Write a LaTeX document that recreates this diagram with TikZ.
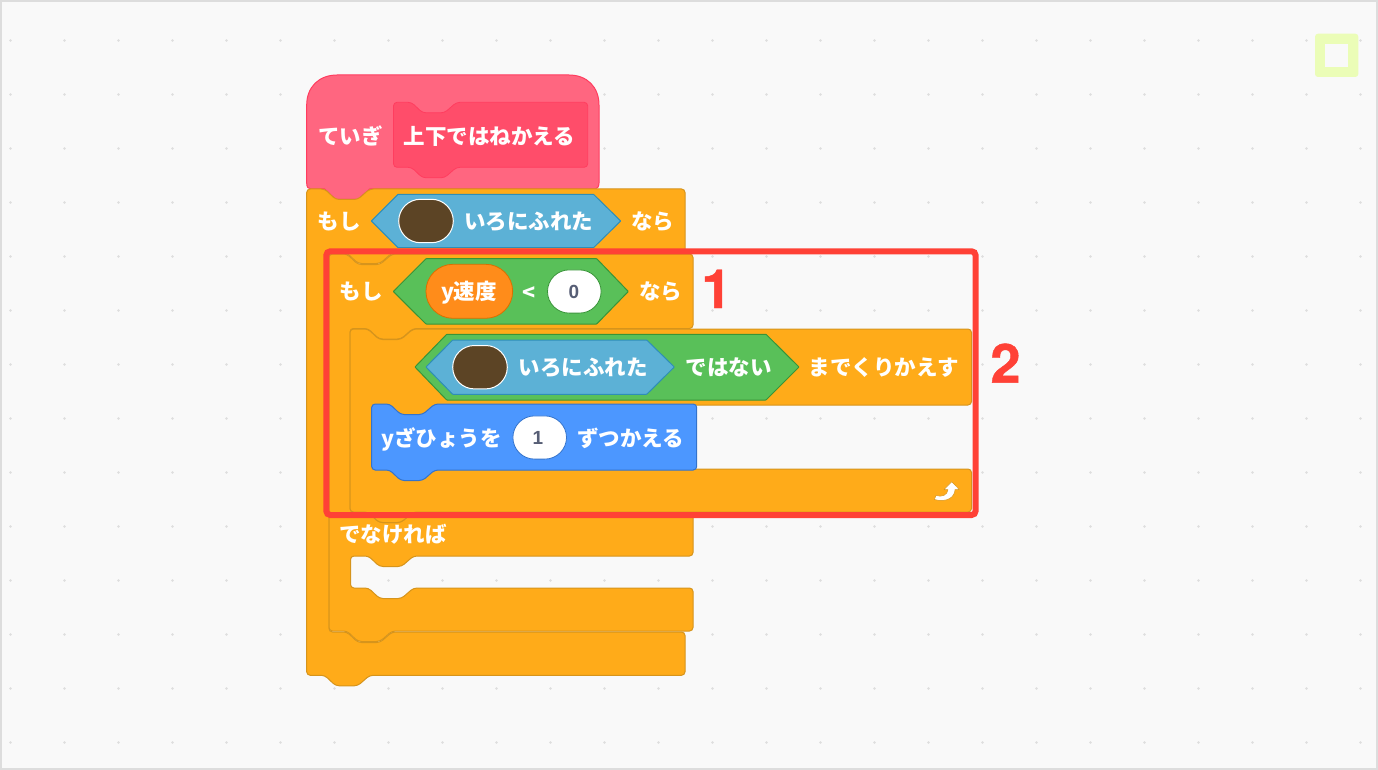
\documentclass[tikz,border=0pt]{standalone}
\usepackage{fontspec}
\usetikzlibrary{shapes.misc}
\setmainfont{Noto Sans CJK JP}
\newfontfamily\arialish{Liberation Sans}
\newfontfamily\helv{TeX Gyre Heros}[BoldFeatures={FakeBold=0.8}]
\definecolor{bgc}{HTML}{F9F9F9}
\definecolor{framec}{HTML}{DDDDDD}
\definecolor{dotc}{HTML}{DEDEDE}
\definecolor{ctrl}{HTML}{FFAB19}
\definecolor{ctrlb}{HTML}{D6941C}
\definecolor{hatc}{HTML}{FF6680}
\definecolor{hatb}{HTML}{FF3D5F}
\definecolor{protoc}{HTML}{FF4D6A}
\definecolor{motion}{HTML}{4C97FF}
\definecolor{motionb}{HTML}{3373CC}
\definecolor{sens}{HTML}{5CB1D6}
\definecolor{sensb}{HTML}{2E8EB8}
\definecolor{oper}{HTML}{59C059}
\definecolor{operb}{HTML}{389438}
\definecolor{varc}{HTML}{FF8C1A}
\definecolor{varb}{HTML}{DB6E00}
\definecolor{swatch}{HTML}{5C4425}
\definecolor{numc}{HTML}{575E75}
\definecolor{redc}{HTML}{FF4136}
\definecolor{limec}{HTML}{EBFDB7}
% notch going left to right at height #2 from block edge #1
\def\ntR#1#2{ -- ({#1+18},#2) -- ({#1+29},{#2+10.5}) -- ({#1+51},{#2+10.5}) -- ({#1+63},#2) }
% same notch, walked right to left
\def\ntL#1#2{ -- ({#1+63},#2) -- ({#1+51},{#2+10.5}) -- ({#1+29},{#2+10.5}) -- ({#1+18},#2) }
\tikzset{
  ctrlblock/.style={fill=ctrl,draw=ctrlb,line width=1pt,rounded corners=3.5pt},
  hatblock/.style={fill=hatc,draw=hatb,line width=1pt},
  protoblock/.style={fill=protoc,draw=hatb,line width=.8pt,rounded corners=3.5pt},
  motionblock/.style={fill=motion,draw=motionb,line width=1pt,rounded corners=3.5pt},
  senshex/.style={fill=sens,draw=sensb,line width=1pt,rounded corners=.5pt},
  operhex/.style={fill=oper,draw=operb,line width=1pt,rounded corners=.5pt},
  lbl/.style={text=white,font=\bfseries\fontsize{21.5}{21.5}\selectfont,inner sep=0pt,text height=17pt,text depth=0pt},
  numlbl/.style={text=numc,font=\arialish\bfseries\fontsize{19}{19}\selectfont,inner sep=0pt,text height=13.5pt,text depth=0pt},
  bigred/.style={text=redc,font=\helv\bfseries\fontsize{54}{54}\selectfont,inner sep=0pt,text height=38pt,text depth=0pt},
  pill/.style={rounded rectangle,inner sep=0pt},
  swatchbox/.style={pill,fill=swatch,draw=white,line width=1pt,minimum width=54.6pt,minimum height=43.4pt},
  varpill/.style={pill,fill=varc,draw=varb,line width=.8pt,minimum width=86.7pt,minimum height=54pt},
  whitepill/.style={pill,fill=white,line width=.8pt,minimum width=53.6pt,minimum height=43.2pt}
}
\begin{document}
\begin{tikzpicture}[x=1pt,y=-1pt]
\useasboundingbox (0,0) rectangle (1378,770);
\fill[framec] (0,0) rectangle (1378,770);
\fill[bgc] (2,2) rectangle (1376,768);
\foreach \px in {10.5,64.5,...,1378}{\foreach \py in {40.5,94.5,...,770}{
  \fill[dotc] (\px,\py) circle (1.4);
}}
% lime marker
\fill[limec,rounded corners=3pt] (1315,33.7) rectangle (1358.3,77);
\fill[bgc] (1325,44) rectangle (1348,67);
% hat, with the notch that the block below it fits on
\draw[hatblock] (306.7,165) -- (306.7,105) .. controls (306.7,87) and (319,75) .. (337,75) -- (569,75) .. controls (587,75) and (599,87) .. (599,105) -- (599,183) .. controls (599,187) and (597,189) .. (595,189) \ntL{306.7}{189} -- (311,189) .. controls (308,189) and (306.7,187) .. (306.7,183) -- cycle;
% prototype
\draw[protoblock] (400,102.3) \ntR{393.5}{102.3} -- (587.7,102.3) -- (587.7,167.3) \ntL{393.5}{167.3} -- (393.5,167.3) -- (393.5,102.3) -- cycle;
% outer if
\draw[ctrlblock] (315,189) \ntR{306.7}{189} -- (685,189) -- (685,253) \ntL{329}{253} -- (329,253) -- (329,632) \ntR{329}{632} -- (685,632) -- (685,675.3) \ntL{306.7}{675.3} -- (306.7,675.3) -- (306.7,189) -- cycle;
% inner if/else
\draw[ctrlblock] (335,254) \ntR{329}{254} -- (693,254) -- (693,328.5) \ntL{350}{328.5} -- (350,328.5) -- (350,512) \ntR{350}{512} -- (693,512) -- (693,556) \ntL{350.5}{556} -- (350.5,556) -- (350.5,588) \ntR{350.5}{588} -- (693,588) -- (693,631) \ntL{329}{631} -- (329,631) -- (329,254) -- cycle;
% repeat until
\draw[ctrlblock] (355,329) \ntR{350}{329} -- (971.5,329) -- (971.5,405) \ntL{371.5}{405} -- (371.5,405) -- (371.5,469) \ntR{371.5}{469} -- (971.5,469) -- (971.5,512) \ntL{350}{512} -- (350,512) -- (350,329) -- cycle;
% motion block
\draw[motionblock] (378,404) \ntR{371.7}{404} -- (696.7,404) -- (696.7,470) \ntL{371.7}{470} -- (371.7,470) -- (371.7,404) -- cycle;
% first sensing hex
\draw[senshex] (371.3,221) -- (398,194.3) -- (593.5,194.3) -- (620.7,221) -- (593.5,247.7) -- (398,247.7) -- cycle;
\node[swatchbox] (swatchA) at (426,221) {};
% operator hex
\draw[operhex] (393.3,291.5) -- (426,258.7) -- (596.7,258.7) -- (628.3,291.5) -- (596.7,324) -- (426,324) -- cycle;
\node[varpill] (varoval) at (469.3,291.3) {};
\node[whitepill,draw=operb] (zeropill) at (574.3,291.5) {};
% not hex
\draw[operhex] (415,367) -- (446.7,334.3) -- (766,334.3) -- (799,367) -- (766,400) -- (446.7,400) -- cycle;
\draw[senshex] (426,367) -- (452.7,340) -- (646.7,340) -- (674.3,367) -- (646.7,394.3) -- (452.7,394.3) -- cycle;
\node[swatchbox] (swatchB) at (480,367.2) {};
% value pill in motion block
\node[whitepill,draw=motionb] (onepill) at (539.7,437.5) {};
% labels
\node[lbl] (teigi) at (350.5,136) {ていぎ};
\node[lbl] (joge) at (489.5,136) {上下ではねかえる};
\node[lbl] (moshiA) at (339,221) {もし};
\node[lbl] (ironiA) at (528.5,221) {いろにふれた};
\node[lbl] (naraA) at (652.5,221) {なら};
\node[lbl] (moshiB) at (361,291) {もし};
\node[lbl] (ysoku) at (469,291) {y速度};
\node[lbl] (lessthan) at (529.5,292) {<};
\node[numlbl] (zero) at (574,291.5) {0};
\node[lbl] (naraB) at (660.5,291) {なら};
\node[lbl] (ironiB) at (583,367) {いろにふれた};
\node[lbl] (dewanai) at (728.5,367) {ではない};
\node[lbl] (made) at (884,367) {までくりかえす};
\node[lbl] (yzahyo) at (441.5,438) {yざひょうを};
\node[numlbl] (one) at (538,438) {1};
\node[lbl] (zutsu) at (630.5,438) {ずつかえる};
\node[lbl] (denakere) at (393,534) {でなければ};
% loop arrow
\draw[fill=white,draw=ctrlb,line width=.5pt,line join=round] (951.7,481.7) -- (959.3,489.5) -- (955,489.5) .. controls (955,497) and (947,503) .. (934.3,499.5) -- (936,495.5) .. controls (942,497.5) and (947.5,495) .. (948,489.5) -- (944,489.5) -- cycle;
% red frame
\draw[redc,line width=6pt,rounded corners=4pt] (326.3,251.3) rectangle (975.6,515);
\node[bigred] (numone) at (716.5,289) {1};
\node[bigred] (numtwo) at (1005.5,363.7) {2};
\end{tikzpicture}
\end{document}
